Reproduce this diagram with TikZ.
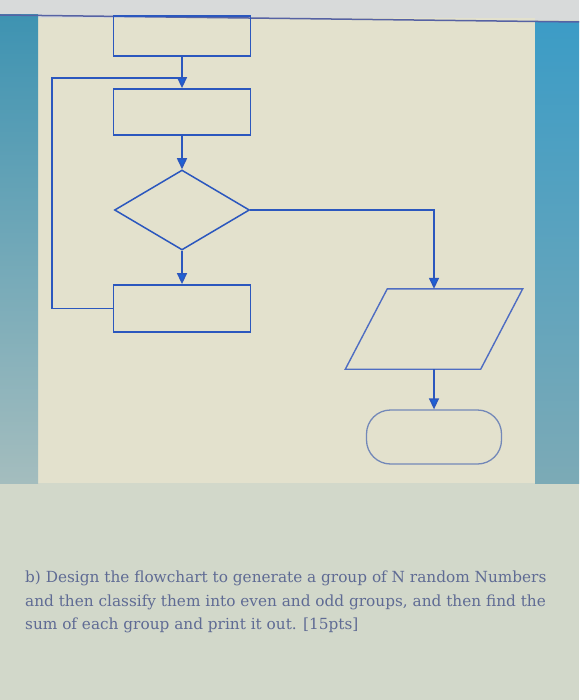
\documentclass[tikz,border=0pt]{standalone}
\usepackage{fontspec}
\setmainfont{DejaVu Serif}
\usepackage{tikz}
\usetikzlibrary{shapes.geometric,arrows.meta}
\definecolor{screentop}{HTML}{D8DADA}
\definecolor{screenbot}{HTML}{D2D8CA}
\definecolor{pagecream}{HTML}{E3E1CD}
\definecolor{bandtop}{HTML}{3E93B2}
\definecolor{bandlow}{HTML}{A4BDBE}
\definecolor{bandrtop}{HTML}{3C9CC6}
\definecolor{bandrlow}{HTML}{7CAAB6}
\definecolor{topline}{HTML}{5662A4}
\definecolor{flowblue}{HTML}{2B57BE}
\definecolor{tipblue}{HTML}{1E62D6}
\definecolor{slantblue}{HTML}{4F6DC2}
\definecolor{endblue}{HTML}{7388B8}
\definecolor{taskgray}{HTML}{5F6B94}

\begin{document}
\begin{tikzpicture}[x=1pt,y=-1pt]
\tikzstyle{every node}+=[inner sep=0pt]
\tikzstyle{box}=[draw=flowblue, line width=1.8pt, minimum width=137pt, minimum height=46pt]
\tikzstyle{decision}=[draw=flowblue, line width=1.5pt, shape=diamond, minimum width=135pt, minimum height=80pt]
\tikzstyle{pgram}=[minimum width=177pt, minimum height=80pt]
\tikzstyle{term}=[draw=endblue, line width=1.3pt, rounded corners=24pt, minimum width=135pt, minimum height=54pt]
\tikzstyle{flow}=[draw=flowblue, line width=1.5pt, -{Triangle[length=11pt,width=10pt,fill=tipblue]}]
\tikzstyle{link}=[draw=flowblue, line width=1.5pt]
\useasboundingbox (0,0) rectangle (579,700);
% screen behind the page
\fill [screenbot] (0,0) rectangle (579,700);
\fill [screentop] (0,0) rectangle (579,20);
\fill [pagecream] (38,18) rectangle (535,483);
\shade [top color=bandtop, bottom color=bandlow] (0,15) rectangle (38,483);
\shade [top color=bandrtop, bottom color=bandrlow] (535,22) rectangle (579,483);
\draw [topline, line width=1.5pt] (0,15) -- (579,22);
% flowchart
\node [box, minimum height=40pt] (start) at (182,36) {};
\node [box] (gen) at (182,112) {};
\node [decision] (check) at (182,210) {};
\node [box, minimum height=47pt] (sum) at (182,308.5) {};
\node [pgram] (print) at (434,329) {};
\draw [slantblue, line width=1.4pt] (print.south west) -- ([xshift=42pt]print.north west)
  -- (print.north east) -- ([xshift=-42pt]print.south east) -- cycle;
\node [term] (stop) at (434,437) {};
\coordinate (loopin) at (182,78);
\coordinate (loopleft) at (52,78);
\draw [flow] (start) -- (gen);
\draw [link] (sum.west) -| (loopleft) -- (loopin);
\draw [flow] (gen) -- (check);
\draw [flow] (check) -- (sum);
\draw [flow] (check.east) -| (print.north);
\draw [flow] (print.south) -- (stop);
% task text
\node [anchor=north west, align=left, text=taskgray, font=\fontsize{15.3}{23.5}\selectfont] (task) at (25,571)
  {b) Design the flowchart to generate a group of N random Numbers\\
   and then classify them into even and odd groups, and then find the\\
   sum of each group and print it out. [15pts]};
\end{tikzpicture}
\end{document}
